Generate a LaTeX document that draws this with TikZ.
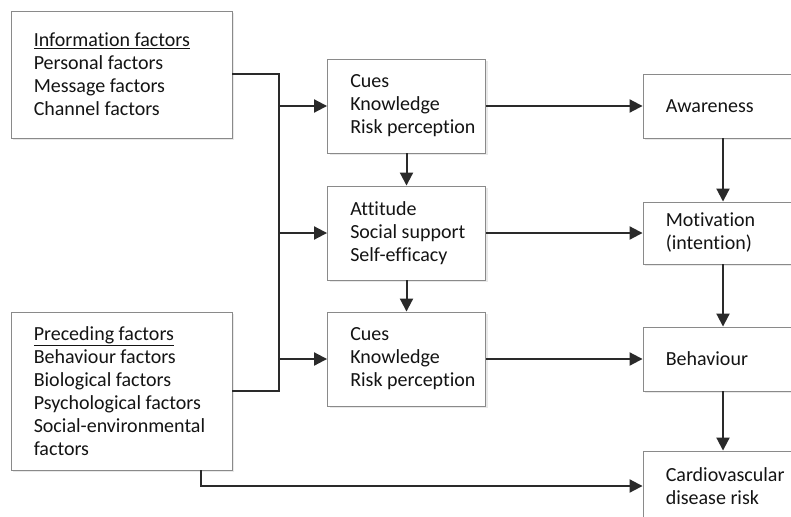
\documentclass[tikz,border=0pt]{standalone}
\usepackage{fontspec}
\setmainfont{Carlito}[Ligatures=CommonOff]
\usetikzlibrary{arrows.meta,shadows}
\definecolor{boxline}{HTML}{8A8A8A}
\definecolor{arrowc}{HTML}{2A2A2A}
\definecolor{txt}{HTML}{141414}
\tikzset{
  box/.style={draw=boxline, line width=0.9pt, fill=white, inner sep=0pt,
    drop shadow={shadow xshift=2pt, shadow yshift=-2pt, fill=black!12, opacity=0.7}},
  lbl/.style={anchor=west, inner sep=0pt, align=left, text=txt,
    font=\fontsize{20}{23}\selectfont},
  conn/.style={draw=arrowc, line width=2pt},
  arr/.style={conn, -{Triangle[length=13pt,width=13pt]}},
}
\begin{document}
\begin{tikzpicture}[x=1pt,y=-1pt]
\useasboundingbox[fill=white] (0,0) rectangle (791,516);
\clip (0,0) rectangle (791,516);
% left boxes
\node[box, minimum width=221pt, minimum height=127pt] (info) at (121.5,74.5) {};
\node[lbl] (infot) at ([xshift=23pt]info.west)
  {\underline{Information factors}\\Personal factors\\Message factors\\Channel factors};
\node[box, minimum width=221pt, minimum height=158pt] (prec) at (121.5,391) {};
\node[lbl] (prect) at ([xshift=23pt]prec.west)
  {\underline{Preceding factors}\\Behaviour factors\\Biological factors\\Psychological factors\\Social-environmental\\factors};
% middle boxes
\node[box, minimum width=158pt, minimum height=94pt] (m1) at (406.5,106) {};
\node[lbl] (m1t) at ([xshift=23pt]m1.west) {Cues\\Knowledge\\Risk perception};
\node[box, minimum width=158pt, minimum height=94pt] (m2) at (406.5,233) {};
\node[lbl] (m2t) at ([xshift=23pt]m2.west) {Attitude\\Social support\\Self-efficacy};
\node[box, minimum width=158pt, minimum height=94pt] (m3) at (406.5,359) {};
\node[lbl] (m3t) at ([xshift=23pt]m3.west) {Cues\\Knowledge\\Risk perception};
% right boxes
\node[box, minimum width=200pt, minimum height=64pt] (aw) at (743,106) {};
\node[lbl] (awt) at ([xshift=23pt]aw.west) {Awareness};
\node[box, minimum width=200pt, minimum height=62pt] (mot) at (743,233) {};
\node[lbl] (mott) at ([xshift=23pt]mot.west) {Motivation\\(intention)};
\node[box, minimum width=200pt, minimum height=64pt] (beh) at (743,359) {};
\node[lbl] (beht) at ([xshift=23pt]beh.west) {Behaviour};
\node[box, minimum width=200pt, minimum height=70pt] (cvd) at (743,486) {};
\node[lbl] (cvdt) at ([xshift=23pt]cvd.west) {Cardiovascular\\disease risk};
% helper coordinates
\coordinate (bus) at (279,0);
\coordinate (rx) at (723,0);
\coordinate (px) at (201,0);
% bus
\draw[conn] (info.east) -| (bus |- prec.east) -- (prec.east);
\draw[arr] (bus |- m1.west) -- (m1.west);
\draw[arr] (bus |- m2.west) -- (m2.west);
\draw[arr] (bus |- m3.west) -- (m3.west);
% middle verticals
\draw[arr] (m1.south) -- (m2.north);
\draw[arr] (m2.south) -- (m3.north);
% middle to right
\draw[arr] (m1.east) -- (aw.west);
\draw[arr] (m2.east) -- (mot.west);
\draw[arr] (m3.east) -- (beh.west);
% right verticals
\draw[arr] (rx |- aw.south) -- (rx |- mot.north);
\draw[arr] (rx |- mot.south) -- (rx |- beh.north);
\draw[arr] (rx |- beh.south) -- (rx |- cvd.north);
% preceding to CVD
\draw[arr] (px |- prec.south) |- (cvd.west);
\end{tikzpicture}
\end{document}
